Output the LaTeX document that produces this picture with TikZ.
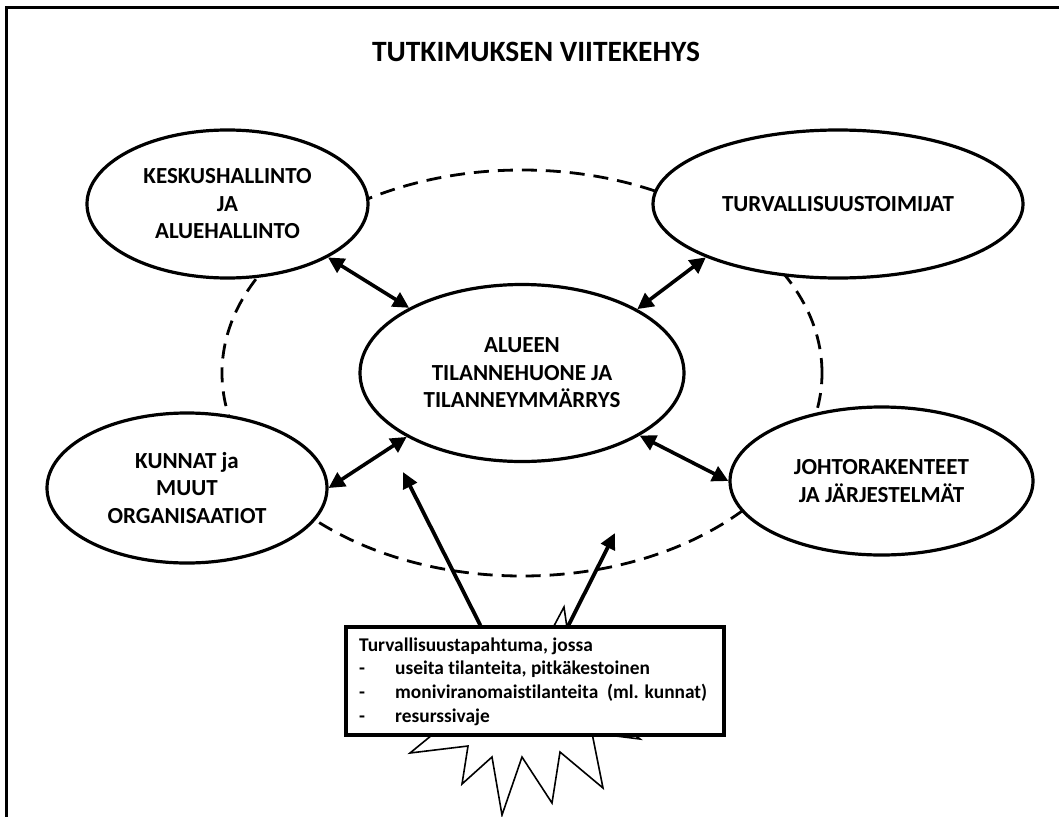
\documentclass[tikz,border=0pt]{standalone}
\usepackage{fontspec}
\setmainfont{Carlito}[Ligatures=NoCommon]
\usetikzlibrary{shapes.geometric,arrows.meta}

\begin{document}
\begin{tikzpicture}[x=1pt,y=-1pt,
  bubble/.style={ellipse,draw,line width=3.2pt,fill=white,inner sep=0pt,
    align=center,font=\fontsize{23}{27.5}\selectfont\bfseries},
  ring/.style={ellipse,draw,line width=2.8pt,dash pattern=on 15pt off 9pt,
    minimum width=600pt,minimum height=406pt,inner sep=0pt},
  link/.style={line width=3.6pt,
    {Triangle[length=16pt,width=16pt]}-{Triangle[length=16pt,width=16pt]}},
  push/.style={line width=3.8pt,-{Triangle[length=16pt,width=15pt]}},
  burst/.style={draw,line width=1.6pt,fill=white,line join=miter},
  eventbox/.style={draw,line width=3.2pt,fill=white,rectangle,inner sep=0pt,
    minimum width=378pt,minimum height=108pt},
  eventtext/.style={align=left,inner sep=0pt,
    font=\fontsize{19.4}{23.6}\selectfont\bfseries},
  titletext/.style={inner sep=0pt,font=\fontsize{29.5}{30}\selectfont\bfseries}
]
\useasboundingbox (0,0) rectangle (1059,816);
\clip (0,0) rectangle (1059,816);

% outer frame (runs off the page on the right and at the bottom)
\draw[line width=3pt] (6.5,7.5) rectangle (1080,840);

% title
\node[titletext,anchor=base] (title) at (536,61) {TUTKIMUKSEN VIITEKEHYS};

% dashed ring linking the four actors
\node[ring] (ring) at (522,373) {};

% explosion behind the event box
\draw[burst] (564,607) -- (576,690) -- (640,739) -- (592,733) -- (603,788)
  -- (560,752) -- (552,803) -- (522,757) -- (502,815) -- (492,757)
  -- (462,784) -- (468,746) -- (410,753) -- (454,717) -- (520,690) -- cycle;

% event box
\node[eventbox] (event) at (535,681) {};
\node[eventtext,anchor=base west] (eventlines) at (359,722)
  {Turvallisuustapahtuma, jossa\\
   \makebox[36pt][l]{-}useita tilanteita, pitkäkestoinen\\
   \makebox[36pt][l]{-}moniviranomaistilanteita\ \ (ml. kunnat)\\
   \makebox[36pt][l]{-}resurssivaje};

% actors
\node[bubble,minimum width=324pt,minimum height=177pt] (core) at (522,373)
  {ALUEEN\\TILANNEHUONE JA\\TILANNEYMMÄRRYS};
\node[bubble,minimum width=281pt,minimum height=148pt] (kesk) at (227.5,204)
  {KESKUSHALLINTO\\JA\\ALUEHALLINTO};
\node[bubble,minimum width=370pt,minimum height=148pt] (turv) at (838,204)
  {TURVALLISUUSTOIMIJAT};
\node[bubble,minimum width=280pt,minimum height=150pt] (kunn) at (187,488)
  {KUNNAT ja\\MUUT\\ORGANISAATIOT};
\node[bubble,minimum width=303pt,minimum height=148pt] (joht) at (881.5,481)
  {JOHTORAKENTEET\\JA JÄRJESTELMÄT};

% two-way links to the situation room
\draw[link] (kesk.-28) -- (core.150.5);
\draw[link] (turv.202) -- (core.29);
\draw[link] (kunn.0) -- (core.209);
\draw[link] (joht.180) -- (core.-28);

% the event feeding the situation room
\coordinate (lefttip) at (403,472);
\coordinate (righttip) at (615,533);
\draw[push] ([xshift=136pt]event.north west) -- (lefttip);
\draw[push] ([xshift=224pt]event.north west) -- (righttip);
\end{tikzpicture}
\end{document}
